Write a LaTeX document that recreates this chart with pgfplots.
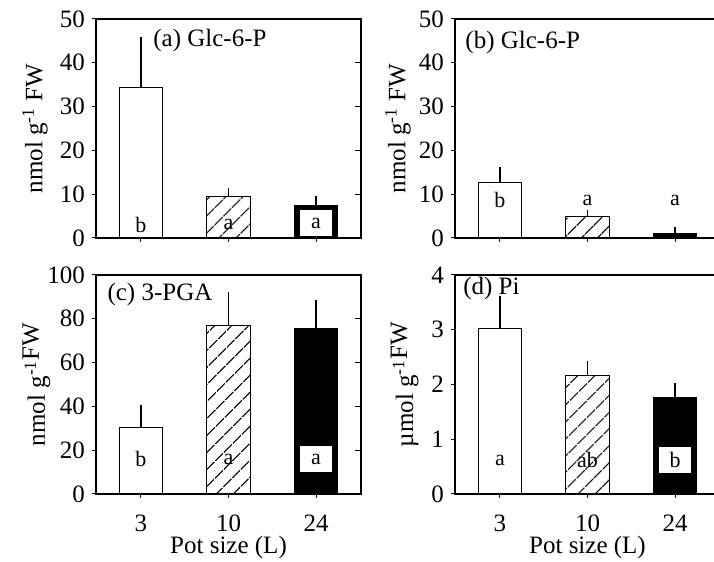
\documentclass[border=0pt]{standalone}
\usepackage{fontspec}
\setmainfont{Liberation Serif}
\usepackage{pgfplots}
\pgfplotsset{compat=1.18}
\usetikzlibrary{patterns.meta}

% 1 px of the reference = 0.5pt
\pgfplotsset{
  panel/.style={
    scale only axis, width=132.5pt, height=109.5pt, anchor=south west,
    xmin=0.486, xmax=3.514, ymin=0,
    xtick={1,2,3}, xtick pos=bottom, ytick pos=left,
    tick align=outside, major tick length=2pt,
    /pgf/number format/assume math mode=true,
    tick label style={font=\fontsize{12.5}{14}\selectfont},
    label style={font=\fontsize{12.5}{15}\selectfont},
    xticklabel style={yshift=-5pt},
    axis line style={line width=0.6pt},
    every tick/.style={black, line width=0.5pt},
    clip=false,
  },
  rticks/.style={
    scale only axis, width=132.5pt, height=109.5pt, anchor=south west,
    xmin=0, xmax=1, ymin=0,
    axis x line=none, axis y line*=right, yticklabels={},
    tick align=inside, major tick length=3pt,
    axis line style={draw=none},
    every tick/.style={black, line width=0.5pt},
  },
  bar/.style={ybar, bar width=0.5, bar shift=0pt, draw=black, line width=0.5pt,
    error bars/y dir=plus, error bars/y explicit,
    error bars/error bar style={line width=0.6pt},
    error bars/error mark options={line width=0.6pt, mark size=1.75pt}},
  whitebar/.style={bar, fill=white},
  hatchbar/.style={bar, pattern={Lines[angle=45,distance=6.4pt,line width=0.65pt]}},
  blackbar/.style={bar, fill=black},
}
\tikzset{
  lab/.style={font=\fontsize{11}{13}\selectfont, inner sep=0pt},
  boxlab/.style={lab, fill=white, minimum width=16pt, minimum height=13pt},
  ttl/.style={font=\fontsize{12.5}{15}\selectfont, anchor=west, inner sep=0pt},
}

\begin{document}
\begin{tikzpicture}
% (a)
\begin{axis}[panel, at={(48pt,162pt)}, ymax=50, ytick={0,10,...,50}, xticklabels={},
  ylabel={nmol g\textsuperscript{-1} FW},
  ylabel style={at={(axis description cs:-0.23,0.5)}, anchor=center}]
\addplot[whitebar] coordinates {(1,34.4) +- (0,10.8)};
\addplot[hatchbar] coordinates {(2,9.4) +- (0,1.3)};
\addplot[blackbar] coordinates {(3,7.5) +- (0,1.4)};
\node[lab] at (axis cs:1,3) {b};
\node[lab] at (axis cs:2,3) {a};
\node[boxlab] at (axis cs:3,3.4) {a};
\node[ttl] at (axis description cs:0.215,0.904) {(a) Glc-6-P};
\end{axis}
\begin{axis}[rticks, at={(48pt,162pt)}, ymax=50, ytick={0,10,...,50}]\end{axis}
% (b)
\begin{axis}[panel, at={(227.5pt,162pt)}, ymax=50, ytick={0,10,...,50}, xticklabels={},
  ylabel={nmol g\textsuperscript{-1} FW},
  ylabel style={at={(axis description cs:-0.215,0.5)}, anchor=center}]
\addplot[whitebar] coordinates {(1,12.6) +- (0,2.9)};
\addplot[hatchbar] coordinates {(2,5.0) +- (0,0.6)};
\addplot[blackbar] coordinates {(3,1.1) +- (0,0.7)};
\node[lab] at (axis cs:1,8.6) {b};
\node[lab] at (axis cs:2,8.6) {a};
\node[lab] at (axis cs:3,8.6) {a};
\node[ttl] at (axis description cs:0.038,0.893) {(b) Glc-6-P};
\end{axis}
\begin{axis}[rticks, at={(227.5pt,162pt)}, ymax=50, ytick={0,10,...,50}]\end{axis}
% (c)
\begin{axis}[panel, at={(48pt,34pt)}, ymax=100, ytick={0,20,...,100}, xticklabels={3,10,24},
  xlabel={Pot size (L)},
  xlabel style={at={(axis description cs:0.5,-0.245)}, anchor=center},
  ylabel={nmol g\textsuperscript{-1}\raisebox{3pt}{FW}},
  ylabel style={at={(axis description cs:-0.225,0.5)}, anchor=center}]
\addplot[whitebar] coordinates {(1,30.3) +- (0,8.6)};
\addplot[hatchbar] coordinates {(2,77.0) +- (0,13.5)};
\addplot[blackbar] coordinates {(3,75.6) +- (0,11.6)};
\node[lab] at (axis cs:1,16) {b};
\node[lab] at (axis cs:2,16) {a};
\node[boxlab] at (axis cs:3,16) {a};
\node[ttl] at (axis description cs:0.042,0.913) {(c) 3-PGA};
\end{axis}
\begin{axis}[rticks, at={(48pt,34pt)}, ymax=100, ytick={0,20,...,100}]\end{axis}
% (d)
\begin{axis}[panel, at={(227.5pt,34pt)}, ymax=4, ytick={0,1,...,4}, xticklabels={3,10,24},
  xlabel={Pot size (L)},
  xlabel style={at={(axis description cs:0.5,-0.245)}, anchor=center},
  ylabel={µmol g\textsuperscript{-1}\raisebox{3pt}{FW}},
  ylabel style={at={(axis description cs:-0.19,0.5)}, anchor=center}]
\addplot[whitebar] coordinates {(1,3.03) +- (0,0.52)};
\addplot[hatchbar] coordinates {(2,2.17) +- (0,0.19)};
\addplot[blackbar] coordinates {(3,1.76) +- (0,0.20)};
\node[lab] at (axis cs:1,0.62) {a};
\node[lab] at (axis cs:2,0.62) {ab};
\node[boxlab] at (axis cs:3,0.62) {b};
\node[ttl] at (axis description cs:0.03,0.94) {(d) Pi};
\end{axis}
\begin{axis}[rticks, at={(227.5pt,34pt)}, ymax=4, ytick={0,1,...,4}]\end{axis}
\pgfresetboundingbox
\useasboundingbox (0pt,0pt) rectangle (357pt,281pt);
\end{tikzpicture}
\end{document}
